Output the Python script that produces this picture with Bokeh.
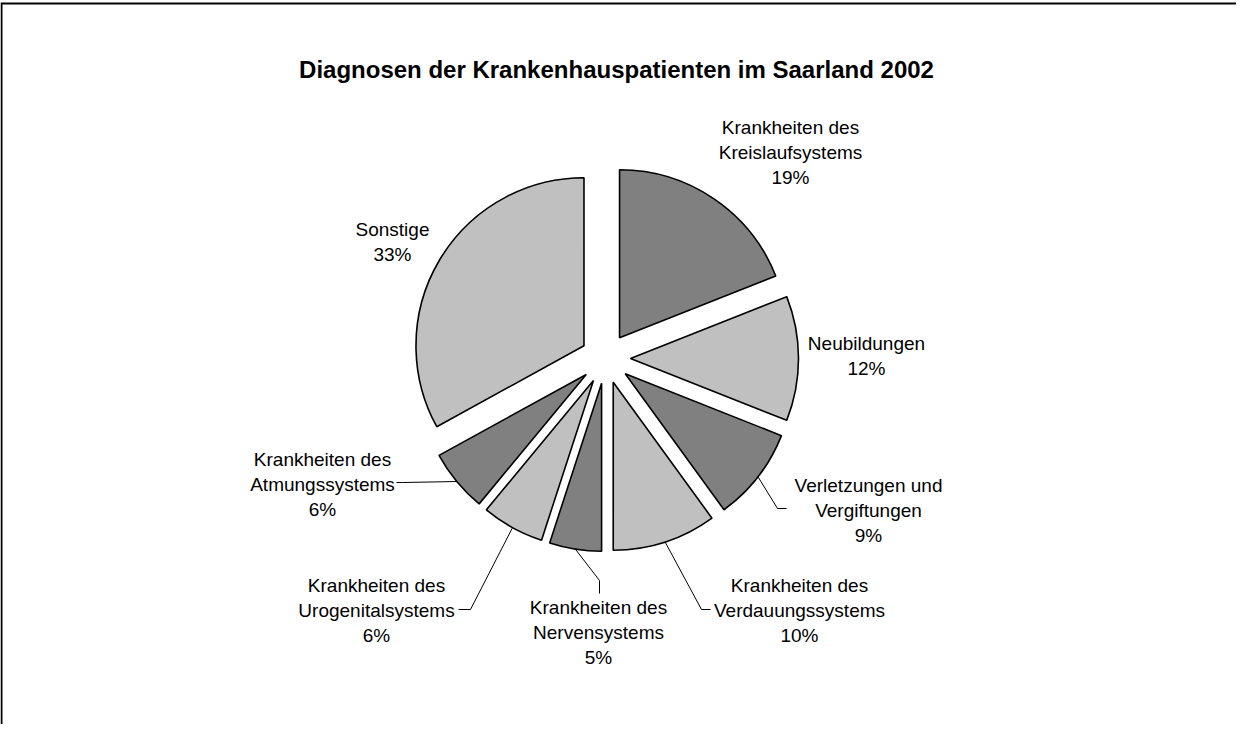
import math
from bokeh.plotting import figure
from bokeh.models import Range1d
from bokeh.embed import file_html
from bokeh.resources import INLINE
from bokeh.core.properties import value

# ---------------- data ----------------
title = "Diagnosen der Krankenhauspatienten im Saarland 2002"
categories = [
    "Krankheiten des Kreislaufsystems",
    "Neubildungen",
    "Verletzungen und Vergiftungen",
    "Krankheiten des Verdauungssystems",
    "Krankheiten des Nervensystems",
    "Krankheiten des Urogenitalsystems",
    "Krankheiten des Atmungssystems",
    "Sonstige",
]
label_lines = [
    ["Krankheiten des", "Kreislaufsystems"],
    ["Neubildungen"],
    ["Verletzungen und", "Vergiftungen"],
    ["Krankheiten des", "Verdauungssystems"],
    ["Krankheiten des", "Nervensystems"],
    ["Krankheiten des", "Urogenitalsystems"],
    ["Krankheiten des", "Atmungssystems"],
    ["Sonstige"],
]
shares = [19, 12, 9, 10, 5, 6, 6, 33]

# ---------------- layout / style ----------------
W, H = 1236, 724
PAGE = 8
DARK, LIGHT = "#808080", "#C0C0C0"
colors = [DARK, LIGHT, DARK, LIGHT, DARK, LIGHT, DARK, LIGHT]
FONT = "Liberation Sans"

# pie geometry (page pixel coordinates, y down)
PIE_CX, PIE_CY = 613, 366
RADIUS = 168
EXPLODE = 25

# label layout: (center x, first line y) in page pixels
label_pos = [
    (798, 135),
    (874, 351),
    (876, 493),
    (807, 593),
    (606, 615),
    (384, 593),
    (330, 467),
    (400, 237),
]
LINE_GAP = 25
# leader lines: elbow and end points (page px) or None
leaders = [
    None,
    None,
    [(785, 516), (794, 516)],
    [(709, 617), (718, 617)],
    [(607, 588), (607, 601)],
    [(478, 617), (466, 617)],
    [(410, 490), (404, 490)],
    None,
]


def fx(px):
    return px - PAGE


def fy(py):
    return H - (py - PAGE)


p = figure(width=W, height=H, x_range=Range1d(0, W), y_range=Range1d(0, H),
           output_backend="svg", toolbar_location=None, min_border=0,
           x_axis_type=None, y_axis_type=None)
p.grid.visible = False
p.outline_line_color = None
p.background_fill_color = "white"
p.border_fill_color = "white"

# chart area border (left and top visible)
p.line(x=[fx(9), fx(9), W + 5], y=[-5, fy(11), fy(11)], line_color="black",
       line_width=2, line_join="miter")

total = float(sum(shares))
cum = 0.0
for i, s in enumerate(shares):
    a0 = cum / total
    a1 = (cum + s) / total
    cum += s
    mid = (a0 + a1) / 2 * 2 * math.pi  # clockwise from top
    dx, dy = math.sin(mid), math.cos(mid)  # y-up direction
    ax = fx(PIE_CX) + EXPLODE * dx
    ay = fy(PIE_CY) + EXPLODE * dy
    p.wedge(x=ax, y=ay, radius=RADIUS,
            start_angle=math.pi / 2 - 2 * math.pi * a0,
            end_angle=math.pi / 2 - 2 * math.pi * a1,
            direction="clock", fill_color=colors[i],
            line_color="black", line_width=1.6)

    # label
    lines = label_lines[i] + [f"{s}%"]
    lx, ly = label_pos[i]
    for k, t in enumerate(lines):
        p.text(x=[fx(lx)], y=[fy(ly + k * LINE_GAP)], text=[t],
               text_font=value(FONT), text_font_size="19px",
               text_color="black", text_align="center",
               text_baseline="middle")

    # leader line
    if leaders[i] is not None:
        sx = ax + RADIUS * dx
        sy = ay + RADIUS * dy
        xs = [sx] + [fx(pt[0]) for pt in leaders[i]]
        ys = [sy] + [fy(pt[1]) for pt in leaders[i]]
        p.line(x=xs, y=ys, line_color="black", line_width=1)

p.text(x=[fx(624)], y=[fy(77)], text=[title], text_font=value(FONT),
       text_font_size="24px", text_font_style="bold", text_color="black",
       text_align="center", text_baseline="alphabetic")

open("out.html", "w").write(file_html(p, INLINE))
